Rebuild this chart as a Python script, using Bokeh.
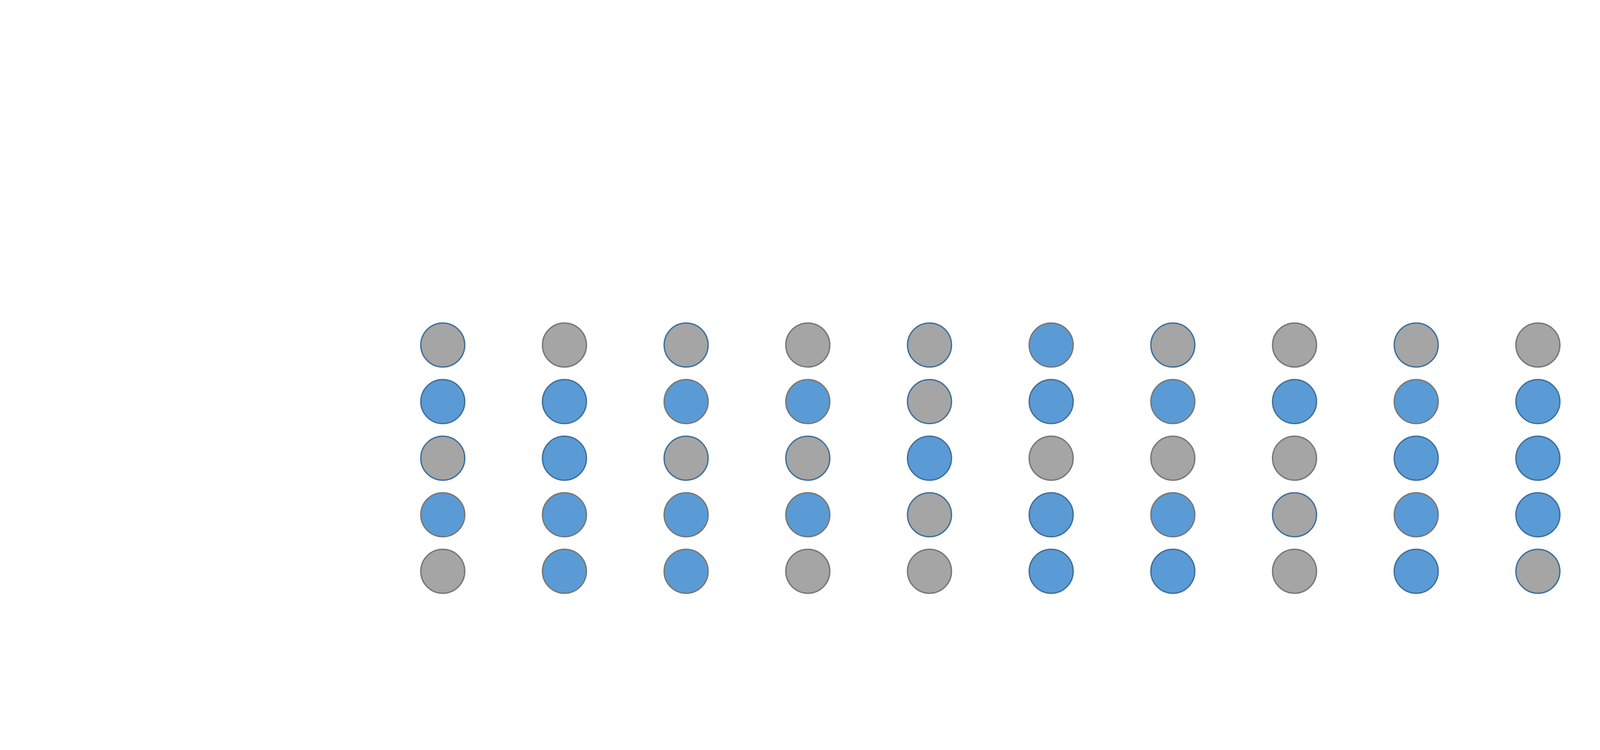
from bokeh.plotting import figure
from bokeh.models import ColumnDataSource, Range1d
from bokeh.embed import file_html
from bokeh.resources import INLINE

# Column positions (1..16) and row positions (5 = top row ... 1 = bottom row)
columns = list(range(1, 17))
rows = [5, 4, 3, 2, 1]

# Fill category per row (top to bottom), one entry per column: "B" = blue, "G" = grey
fill_rows = [
    ["G", "G", "G", "G", "G", "B", "G", "G", "G", "G", "G", "B", "G", "B", "B", "G"],
    ["B", "B", "B", "B", "G", "B", "B", "B", "B", "B", "G", "B", "B", "G", "B", "B"],
    ["G", "B", "G", "G", "B", "G", "G", "G", "B", "B", "B", "G", "G", "B", "B", "B"],
    ["B", "B", "B", "B", "G", "B", "B", "G", "B", "B", "B", "B", "B", "B", "B", "B"],
    ["G", "B", "B", "G", "G", "B", "B", "G", "B", "G", "G", "G", "G", "G", "G", "G"],
]

# Outline category per row (top to bottom): "B" = blue outline, "G" = grey outline
outline_rows = [
    ["B", "G", "B", "G", "B", "G", "B", "G", "B", "G", "G", "B", "B", "B", "B", "G"],
    ["B", "B", "G", "G", "B", "B", "G", "B", "G", "B", "B", "G", "G", "B", "B", "B"],
    ["B", "B", "B", "B", "B", "G", "G", "G", "B", "B", "B", "B", "B", "G", "B", "G"],
    ["G", "G", "G", "G", "B", "B", "G", "B", "G", "B", "B", "G", "G", "B", "G", "B"],
    ["G", "G", "G", "G", "G", "B", "B", "G", "B", "B", "G", "G", "B", "G", "B", "G"],
]

fill_palette = {"B": "#5B9BD5", "G": "#A5A5A5"}
line_palette = {"B": "#41719C", "G": "#787878"}

xs, ys, fills, lines = [], [], [], []
for r, frow, orow in zip(rows, fill_rows, outline_rows):
    for c, f, o in zip(columns, frow, orow):
        xs.append(c)
        ys.append(r)
        fills.append(fill_palette[f])
        lines.append(line_palette[o])

source = ColumnDataSource(dict(x=xs, y=ys, fill=fills, line=lines))

W, H = 5984, 1904
sx = 311.5   # px per column unit
sy = 144.8   # px per row unit
x0 = 1 - 1133 / sx
y_top = 1 + 1462 / sy

p = figure(width=W, height=H, output_backend="svg", toolbar_location=None,
           x_range=Range1d(x0, x0 + W / sx), y_range=Range1d(y_top - H / sy, y_top),
           min_border=0)
p.axis.visible = False
p.grid.visible = False
p.outline_line_color = None
p.background_fill_color = "white"
p.border_fill_color = "white"

p.scatter("x", "y", source=source, marker="circle", size=112.5,
          fill_color="fill", line_color="line", line_width=3.5)

open("out.html", "w").write(file_html(p, INLINE))
